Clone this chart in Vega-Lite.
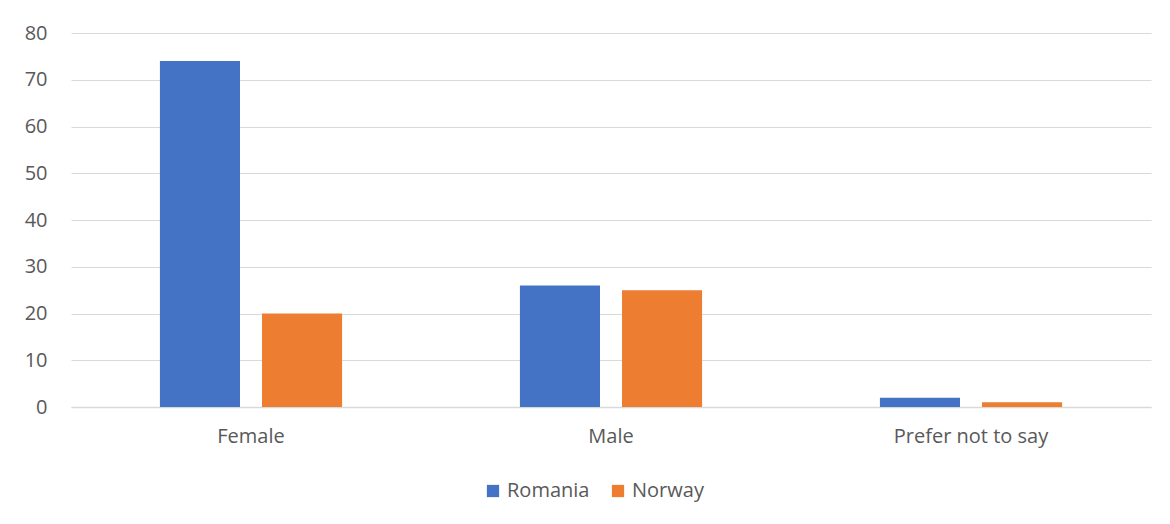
{
  "$schema": "https://vega.github.io/schema/vega-lite/v6.json",
  "width": 1080,
  "height": 374,
  "autosize": "none",
  "padding": {"left": 71, "top": 33, "right": 19, "bottom": 117},
  "background": "white",
  "data": {
    "values": [
      {"gender": "Female", "country": "Romania", "value": 74},
      {"gender": "Female", "country": "Norway", "value": 20},
      {"gender": "Male", "country": "Romania", "value": 26},
      {"gender": "Male", "country": "Norway", "value": 25},
      {"gender": "Prefer not to say", "country": "Romania", "value": 2},
      {"gender": "Prefer not to say", "country": "Norway", "value": 1}
    ]
  },
  "mark": {"type": "bar"},
  "encoding": {
    "x": {
      "field": "gender", "type": "nominal", "sort": null,
      "scale": {"paddingInner": 0.494, "paddingOuter": 0.247},
      "axis": {"title": null, "labelAngle": 0, "ticks": false, "domainColor": "#d9d9d9", "domainWidth": 1.5, "labelFontSize": 20, "labelColor": "#595959", "labelFont": "Open Sans", "labelPadding": 19}
    },
    "xOffset": {
      "field": "country", "type": "nominal", "sort": ["Romania", "Norway"],
      "scale": {"paddingInner": 0.2157, "paddingOuter": 0}
    },
    "y": {
      "field": "value", "type": "quantitative",
      "scale": {"domain": [0, 80], "nice": false},
      "axis": {"title": null, "values": [0,10,20,30,40,50,60,70,80], "ticks": false, "domain": false, "gridColor": "#d9d9d9", "gridWidth": 1.2, "labelFontSize": 20, "labelColor": "#595959", "labelFont": "Open Sans", "labelPadding": 24}
    },
    "color": {
      "field": "country", "type": "nominal", "sort": ["Romania", "Norway"],
      "scale": {"domain": ["Romania", "Norway"], "range": ["#4472c4", "#ed7d31"]},
      "legend": {"title": null, "orient": "none", "direction": "horizontal", "legendX": 412, "legendY": 448, "symbolType": "square", "symbolSize": 150, "symbolStrokeWidth": 0, "labelFontSize": 20, "labelColor": "#595959", "labelFont": "Open Sans", "labelOffset": 4, "columnPadding": 18, "symbolOpacity": 1}
    }
  },
  "config": {"view": {"stroke": null}}
}
